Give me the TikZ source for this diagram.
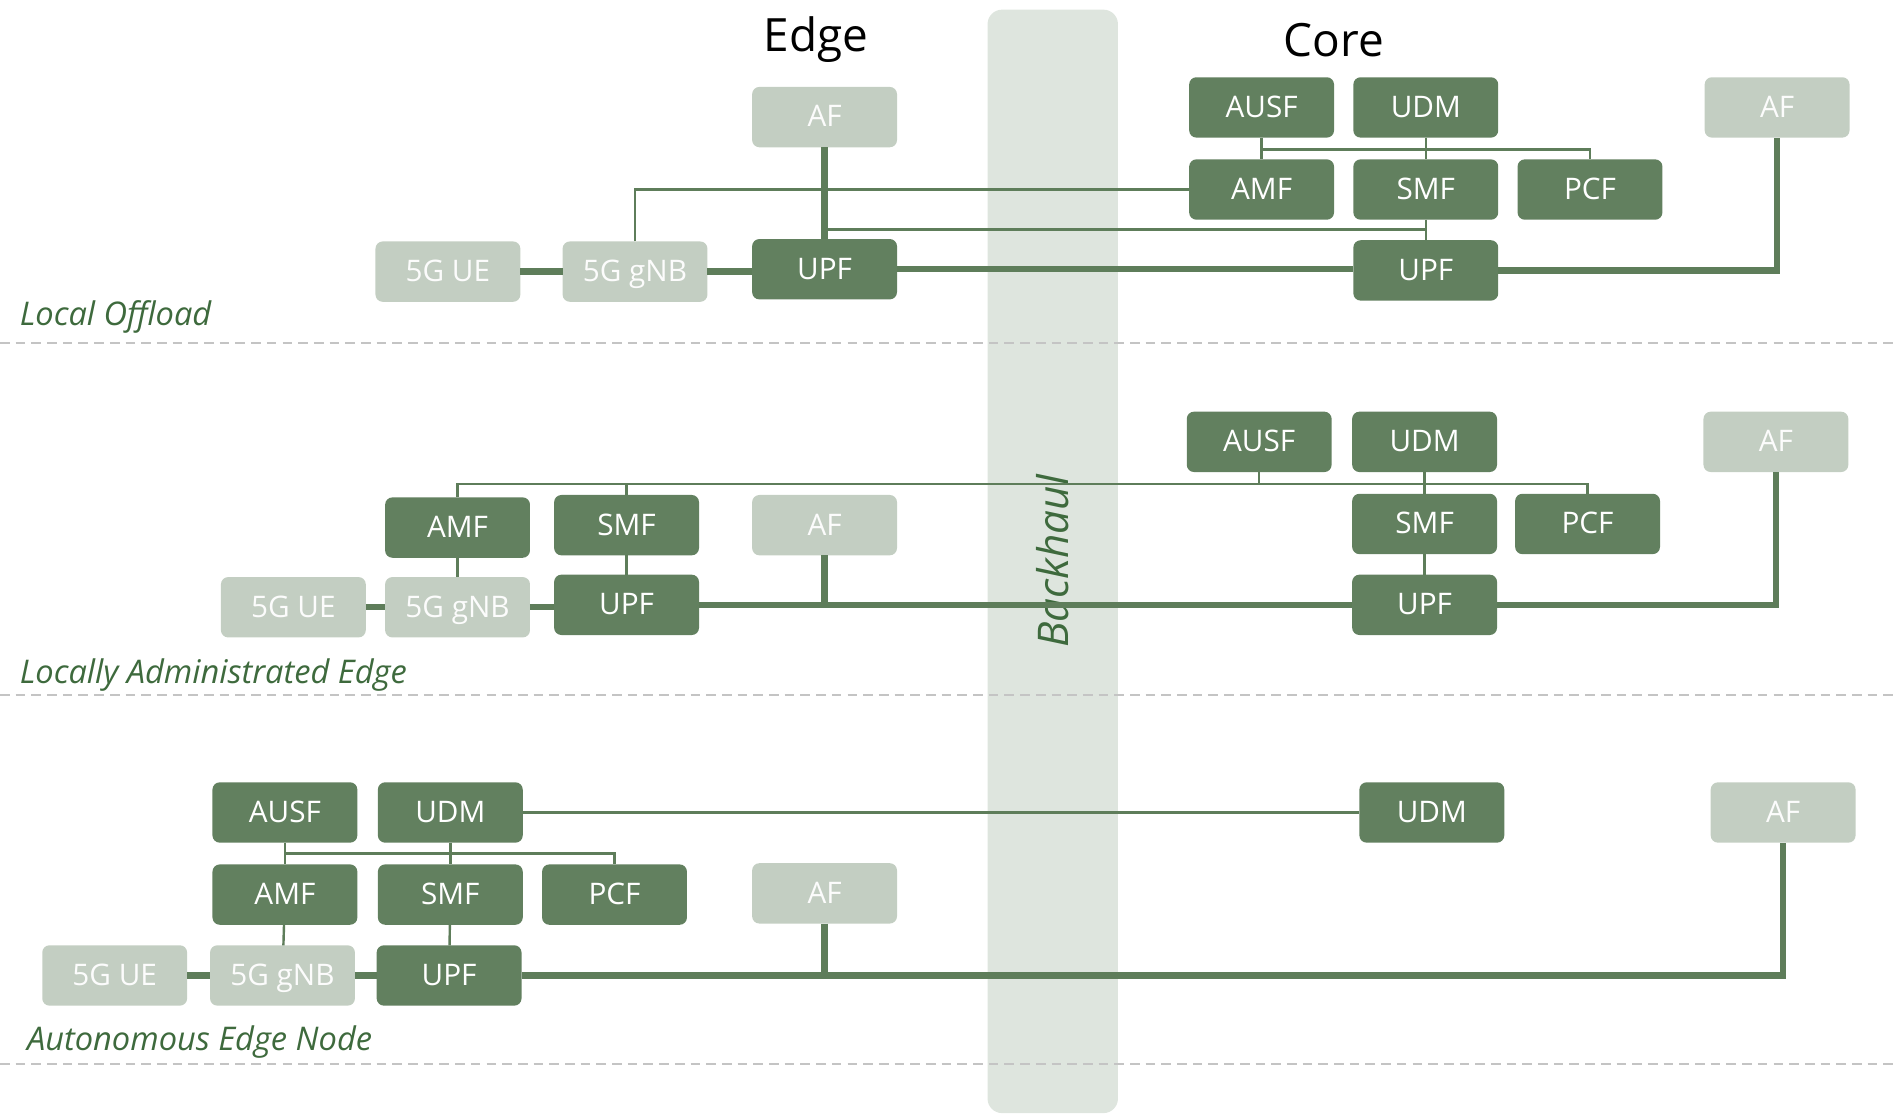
\documentclass[tikz,border=0pt]{standalone}
\usepackage{fontspec}
\setmainfont{Open Sans}
\definecolor{nfgreen}{HTML}{62805F}
\definecolor{extgray}{HTML}{C3CEC2}
\definecolor{linegreen}{HTML}{5E7D5A}
\definecolor{bandgray}{HTML}{DEE5DE}
\definecolor{labelgreen}{HTML}{3E6A3D}
\definecolor{dashgray}{HTML}{C4C4C4}
\begin{document}
\begin{tikzpicture}[x=0.5pt, y=-0.5pt,
    nf/.style={fill=nfgreen, text=white, rounded corners=3pt, minimum width=60pt, minimum height=25pt, inner sep=0pt, outer sep=0pt, text height=8.8pt, text depth=0.6pt, font=\fontsize{12.3}{14}\selectfont},
    ext/.style={nf, fill=extgray, text=white!95!extgray},
    thick link/.style={draw=linegreen, line width=2.6pt},
    thin link/.style={draw=linegreen, line width=1pt},
    zone/.style={font=\fontsize{13.5}{15}\selectfont\itshape, text=labelgreen, anchor=base west, inner sep=0pt},
    sep/.style={draw=dashgray, line width=0.9pt, dash pattern=on 4pt off 2.5pt}]
       \useasboundingbox (0,0) rectangle (1568,924);
       \fill[bandgray, rounded corners=6pt] (818,8) rectangle (926,922);
       \node[rotate=90, font=\fontsize{17.5}{19}\selectfont\itshape, text=labelgreen] (bh) at (872,465) {Backhaul};
       \node[font=\fontsize{19}{22}\selectfont] (edge) at (676,33) {Edge};
       \node[font=\fontsize{19}{22}\selectfont] (core) at (1105,33) {Core};

       \foreach \y in {284,576,881} {
        \draw[sep] (0,\y) -- (1568,\y);
    }

       % local offload
       \node[ext] (af1e) at (683,97) {AF};
       \node[nf] (ausf1) at (1045,89) {AUSF};
       \node[nf] (udm1) at (1181,89) {UDM};
       \node[ext] (af1c) at (1472,89) {AF};
       \node[nf] (amf1) at (1045,157) {AMF};
       \node[nf] (smf1) at (1181,157) {SMF};
       \node[nf] (pcf1) at (1317,157) {PCF};
       \node[ext] (ue1) at (371,225) {5G UE};
       \node[ext] (gnb1) at (526,225) {5G gNB};
       \node[nf] (upf1e) at (683,223) {UPF};
       \node[nf] (upf1c) at (1181,224) {UPF};
       \node[zone] (lo) at (16,270) {Local Offload};
       \coordinate (bus1) at (1045,124);
       \coordinate (tap1) at (683,190);

       \draw[thin link] (gnb1.north) |- (amf1.west);
       \draw[thin link] (ausf1) -- (amf1);
       \draw[thin link] (udm1) -- (smf1);
       \draw[thin link] (bus1) -| (pcf1.north);
       \draw[thin link] (smf1) -- (upf1c);
       \draw[thin link] (tap1) -- (tap1 -| smf1.south);
       \draw[thick link] (ue1) -- (gnb1);
       \draw[thick link] (gnb1.east) -- (gnb1.east -| upf1e.west);
       \draw[thick link] (af1e) -- (upf1e);
       \draw[thick link] (upf1e.east) -- (upf1e.east -| upf1c.west);
       \draw[thick link] (upf1c.east) -| (af1c.south);

       % locally administrated edge
       \node[nf] (ausf2) at (1043,366) {AUSF};
       \node[nf] (udm2) at (1180,366) {UDM};
       \node[ext] (af2c) at (1471,366) {AF};
       \node[nf] (amf2) at (379,437) {AMF};
       \node[nf] (smf2e) at (519,435) {SMF};
       \node[ext] (af2e) at (683,435) {AF};
       \node[nf] (smf2c) at (1180,434) {SMF};
       \node[nf] (pcf2) at (1315,434) {PCF};
       \node[ext] (ue2) at (243,503) {5G UE};
       \node[ext] (gnb2) at (379,503) {5G gNB};
       \node[nf] (upf2e) at (519,501) {UPF};
       \node[nf] (upf2c) at (1180,501) {UPF};
       \node[zone] (lae) at (16,566) {Locally Administrated Edge};
       \coordinate (bus2) at (379,401);

       \draw[thin link] (amf2.north) -- (bus2) -| (pcf2.north);
       \draw[thin link] (smf2e.north) -- (smf2e.north |- bus2);
       \draw[thin link] (ausf2.south) -- (ausf2.south |- bus2);
       \draw[thin link] (udm2) -- (smf2c);
       \draw[thin link] (amf2) -- (gnb2);
       \draw[thin link] (smf2e) -- (upf2e);
       \draw[thin link] (smf2c) -- (upf2c);
       \draw[thick link] (ue2) -- (gnb2);
       \draw[thick link] (gnb2.east) -- (gnb2.east -| upf2e.west);
       \draw[thick link] (upf2e) -- (upf2c);
       \draw[thick link] (af2e.south) -- (af2e.south |- upf2e);
       \draw[thick link] (upf2c.east) -| (af2c.south);

       % autonomous edge node
       \node[nf] (ausf3) at (236,673) {AUSF};
       \node[nf] (udm3e) at (373,673) {UDM};
       \node[nf] (udm3c) at (1186,673) {UDM};
       \node[ext] (af3c) at (1477,673) {AF};
       \node[nf] (amf3) at (236,741) {AMF};
       \node[nf] (smf3) at (373,741) {SMF};
       \node[nf] (pcf3) at (509,741) {PCF};
       \node[ext] (af3e) at (683,740) {AF};
       \node[ext] (ue3) at (95,808) {5G UE};
       \node[ext] (gnb3) at (234,808) {5G gNB};
       \node[nf] (upf3) at (372,808) {UPF};
       \node[zone] (aen) at (22,870) {Autonomous Edge Node};
       \coordinate (bus3) at (236,707);

       \draw[thin link] (udm3e) -- (udm3c);
       \draw[thin link] (ausf3) -- (amf3);
       \draw[thin link] (udm3e) -- (smf3);
       \draw[thin link] (bus3) -| (pcf3.north);
       \draw[thin link] (amf3) -- (gnb3);
       \draw[thin link] (smf3) -- (upf3);
       \draw[thick link] (ue3) -- (gnb3);
       \draw[thick link] (gnb3) -- (upf3);
       \draw[thick link] (upf3.east) -| (af3c.south);
       \draw[thick link] (af3e.south) -- (af3e.south |- upf3);

   \end{tikzpicture}
\end{document}
